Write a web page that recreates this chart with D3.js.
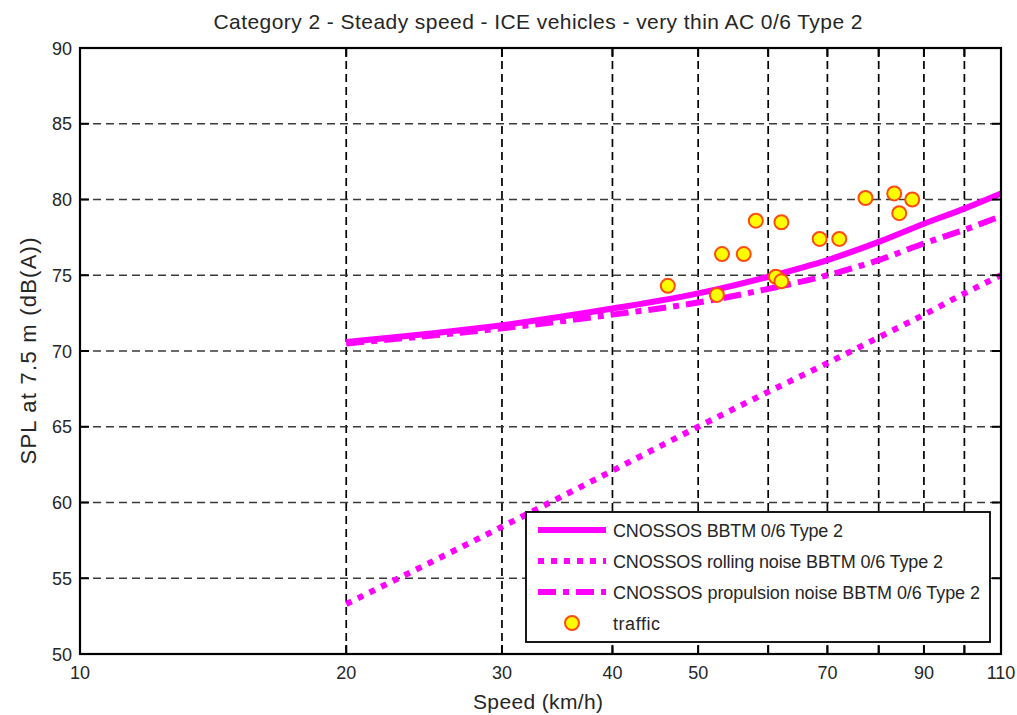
<!DOCTYPE html>
<html>
<head>
<meta charset="utf-8">
<script src="https://cdn.jsdelivr.net/npm/d3@7"></script>
<style>
  html, body { margin: 0; padding: 0; background: #fff; }
  svg text { font-family: "Liberation Sans", Arial, Helvetica, sans-serif; fill: #262626; }
</style>
</head>
<body>
<svg id="chart" width="1017" height="715"></svg>
<script>
// Speed samples (km/h) for the CNOSSOS model curves
const speeds = [20, 30, 40, 50, 60, 70, 80, 90, 100, 110];
// Total level, rolling noise and propulsion noise, dB(A) at 7.5 m
const totalLevel      = [70.6, 71.7, 72.8, 73.8, 74.9, 76.0, 77.2, 78.4, 79.4, 80.4];
const rollingLevel    = [53.3, 58.4, 62.1, 65.0, 67.3, 69.2, 70.9, 72.4, 73.8, 75.0];
const propulsionLevel = [70.5, 71.5, 72.4, 73.2, 74.1, 75.0, 76.0, 77.1, 78.0, 78.9];

// Measured pass-bys
const trafficSpeed = [46.2, 52.5, 53.2, 56.3, 58.1, 62.1, 61.2, 62.1, 68.6, 72.2, 77.3, 83.3, 87.3, 84.4];
const trafficLevel = [74.3, 73.7, 76.4, 76.4, 78.6, 78.5, 74.9, 74.6, 77.4, 77.4, 80.1, 80.4, 80.0, 79.1];

// Axis ticks
const xTicks = [10, 20, 30, 40, 50, 60, 70, 80, 90, 100, 110];
const xTickLabels = ["10", "20", "30", "40", "50", "", "70", "", "90", "", "110"];
const yTicks = [50, 55, 60, 65, 70, 75, 80, 85, 90];

const legendLabels = [
  "CNOSSOS BBTM 0/6 Type 2",
  "CNOSSOS rolling noise BBTM 0/6 Type 2",
  "CNOSSOS propulsion noise BBTM 0/6 Type 2",
  "traffic"
];

const titleText = "Category 2 - Steady speed - ICE vehicles - very thin AC 0/6 Type 2";
const xLabel = "Speed (km/h)";
const yLabel = "SPL at 7.5 m (dB(A))";

const svg = d3.select("#chart");
const L = 80, R = 1001, T = 48, B = 654;

const x = d3.scaleLog().domain([10, 110]).range([L, R]);
const y = d3.scaleLinear().domain([50, 90]).range([B, T]);

const MAG = "#ff00ff";

// Grid lines
const grid = svg.append("g");
grid.selectAll("line.vg").data(xTicks.filter(d => d > 10 && d < 110)).join("line")
  .attr("x1", d => x(d)).attr("x2", d => x(d)).attr("y1", T).attr("y2", B)
  .attr("stroke", "#000").attr("stroke-width", 1.7).attr("stroke-dasharray", "8,5");
grid.selectAll("line.hg").data(yTicks.filter(d => d > 50 && d < 90)).join("line")
  .attr("x1", L).attr("x2", R).attr("y1", d => y(d)).attr("y2", d => y(d))
  .attr("stroke", "#3a3a3a").attr("stroke-width", 1.5).attr("stroke-dasharray", "8,5");

// Model curves
const line = d3.line().x(d => x(d[0])).y(d => y(d[1])).curve(d3.curveMonotoneX);
const plot = svg.append("g");
plot.append("path").datum(speeds.map((s, i) => [s, rollingLevel[i]]))
  .attr("d", line).attr("fill", "none").attr("stroke", MAG)
  .attr("stroke-width", 6).attr("stroke-dasharray", "6,7");
plot.append("path").datum(speeds.map((s, i) => [s, propulsionLevel[i]]))
  .attr("d", line).attr("fill", "none").attr("stroke", MAG)
  .attr("stroke-width", 6).attr("stroke-dasharray", "18,7,6,7");
plot.append("path").datum(speeds.map((s, i) => [s, totalLevel[i]]))
  .attr("d", line).attr("fill", "none").attr("stroke", MAG)
  .attr("stroke-width", 6);

// Measured points
plot.selectAll("circle.pt").data(trafficSpeed.map((s, i) => [s, trafficLevel[i]])).join("circle")
  .attr("cx", d => x(d[0])).attr("cy", d => y(d[1])).attr("r", 7)
  .attr("fill", "#ffff00").attr("stroke", "#ff4a10").attr("stroke-width", 2);

// Axes box with inward ticks
const axes = svg.append("g");
const inner = xTicks.filter(d => d > 10 && d < 110);
axes.selectAll("line.xb").data(inner).join("line")
  .attr("x1", d => x(d)).attr("x2", d => x(d)).attr("y1", B).attr("y2", B - 9)
  .attr("stroke", "#000").attr("stroke-width", 2);
axes.selectAll("line.xt").data(inner).join("line")
  .attr("x1", d => x(d)).attr("x2", d => x(d)).attr("y1", T).attr("y2", T + 9)
  .attr("stroke", "#000").attr("stroke-width", 2);
const yin = yTicks.filter(d => d > 50 && d < 90);
axes.selectAll("line.yl").data(yin).join("line")
  .attr("x1", L).attr("x2", L + 9).attr("y1", d => y(d)).attr("y2", d => y(d))
  .attr("stroke", "#000").attr("stroke-width", 2);
axes.selectAll("line.yr").data(yin).join("line")
  .attr("x1", R).attr("x2", R - 9).attr("y1", d => y(d)).attr("y2", d => y(d))
  .attr("stroke", "#000").attr("stroke-width", 2);
axes.append("rect").attr("x", L).attr("y", T).attr("width", R - L).attr("height", B - T)
  .attr("fill", "none").attr("stroke", "#000").attr("stroke-width", 2.2);

// Tick labels
axes.selectAll("text.xl").data(xTicks).join("text")
  .attr("x", d => x(d)).attr("y", B + 25).attr("text-anchor", "middle")
  .style("font-size", "18px").text((d, i) => xTickLabels[i]);
axes.selectAll("text.yl").data(yTicks).join("text")
  .attr("x", L - 8).attr("y", d => y(d) + 6.5).attr("text-anchor", "end")
  .style("font-size", "18px").text(d => d);

// Titles
svg.append("text").attr("x", 538).attr("y", 29).attr("text-anchor", "middle")
  .style("font-size", "21px").attr("textLength", 649).attr("lengthAdjust", "spacing")
  .text(titleText);
svg.append("text").attr("x", 538).attr("y", 709).attr("text-anchor", "middle")
  .style("font-size", "21px").attr("textLength", 130).attr("lengthAdjust", "spacing")
  .text(xLabel);
svg.append("text").attr("transform", "translate(36,351) rotate(-90)").attr("text-anchor", "middle")
  .style("font-size", "22px").attr("textLength", 227).attr("lengthAdjust", "spacing")
  .text(yLabel);

// Legend
const lg = svg.append("g");
lg.append("rect").attr("x", 526).attr("y", 512).attr("width", 464).attr("height", 130)
  .attr("fill", "#fff").attr("stroke", "#000").attr("stroke-width", 1.8);
const rowY = [530, 561, 592, 623];
const dashes = [null, "6,7", "18,7,6,7"];
[0, 1, 2].forEach(i => {
  lg.append("line").attr("x1", 538).attr("x2", 606).attr("y1", rowY[i]).attr("y2", rowY[i])
    .attr("stroke", MAG).attr("stroke-width", 6)
    .attr("stroke-dasharray", dashes[i]);
});
lg.append("circle").attr("cx", 572).attr("cy", rowY[3]).attr("r", 7)
  .attr("fill", "#ffff00").attr("stroke", "#ff4a10").attr("stroke-width", 2);
const legendWidths = [230, 330, 367, 47];
lg.selectAll("text.lt").data(legendLabels).join("text")
  .attr("x", 613).attr("y", (d, i) => rowY[i] + 6.5)
  .style("font-size", "18px")
  .attr("textLength", (d, i) => legendWidths[i]).attr("lengthAdjust", "spacing")
  .text(d => d);
</script>
</body>
</html>
